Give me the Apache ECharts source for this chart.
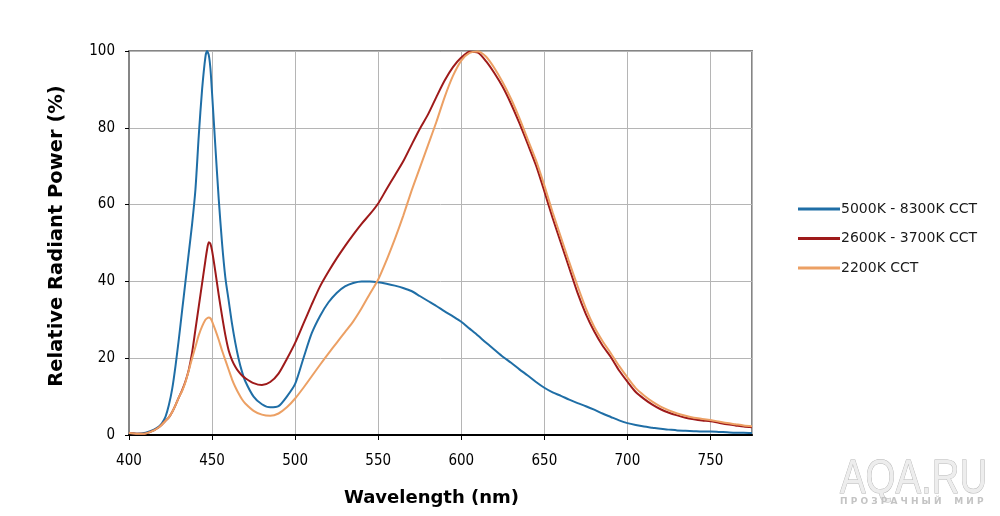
<!DOCTYPE html>
<html>
<head>
<meta charset="utf-8">
<script src="https://cdn.jsdelivr.net/npm/echarts@6/dist/echarts.min.js"></script>
<style>
html,body{margin:0;padding:0;background:#fff;}
#chart{width:1000px;height:516px;}
</style>
</head>
<body>
<div id="chart"></div>
<script>
// Wavelengths (nm) shared by all series
const wavelengths = [400,405,410,415,418,420,422,424,426,428,430,432,434,436,438,440,442,444,446,447,448,449,450,452,454,456,458,460,462,464,466,468,470,475,480,485,490,495,500,505,510,515,520,525,530,535,540,545,550,555,560,565,570,575,580,585,590,595,600,605,610,615,620,625,630,635,640,645,650,655,660,665,670,675,680,685,690,695,700,705,710,715,720,725,730,735,740,745,750,755,760,765,770,775];

const cct5000 = [0.5,0.3,0.6,1.4,2.2,3.2,4.8,7.8,12,18,25,32.5,40,47.5,55,64,78,90,98.5,100,99,95.5,89,75,61.5,50,41,35,29,24,19.8,16.5,14,10,8,7.2,7.5,10,13.3,20,26.5,31,34.5,37,38.7,39.6,40,40,39.8,39.4,38.9,38.3,37.5,36.2,34.9,33.6,32.2,30.9,29.5,27.7,25.9,24,22.2,20.4,18.8,17.1,15.5,13.8,12.3,11.1,10.2,9.2,8.3,7.5,6.6,5.6,4.7,3.8,3.1,2.6,2.2,1.9,1.6,1.4,1.2,1.1,1.0,0.9,0.9,0.8,0.7,0.6,0.6,0.5];

const cct2600 = [0.5,0.3,0.4,1.2,2,2.8,3.7,4.6,6,7.8,9.8,11.7,14,17,21.5,27.5,33.5,39.5,45.5,48.3,50.2,49.8,48,42.5,36.5,31,26,22,19.5,17.8,16.5,15.5,14.8,13.5,13,13.8,16,19.8,24,29,34,38.7,42.5,46,49.2,52.2,55,57.5,60.3,64,67.6,71.2,75.5,79.7,83.5,88,92.3,95.8,98.3,99.8,99.6,97.3,94.2,90.6,86.2,81.2,75.8,70.2,63.5,56.5,50,43.5,37,31.5,27,23.3,20.3,16.8,13.9,11.2,9.4,7.9,6.7,5.8,5.1,4.5,4.1,3.8,3.6,3.2,2.8,2.5,2.2,2.0];

const cct2200 = [0.5,0.3,0.4,1.2,2,2.8,3.7,4.6,6,7.8,9.8,11.5,13.8,16.8,20,23,26,28.3,30,30.4,30.6,30.4,29.6,27.3,24.8,22,19.5,17,14.5,12.5,10.8,9.3,8.2,6.3,5.3,5,5.6,7.2,9.5,12.3,15.3,18.3,21.2,24,26.8,29.6,33,36.8,40.5,45.5,51,57,63.5,69.5,75.5,81.5,88,93.5,97.5,99.5,99.9,98.5,95.5,91.8,87.5,82.5,77,71.5,65,58,51.5,45,38.8,33,28.2,24.5,21.3,18,15,12.2,10.3,8.7,7.4,6.4,5.6,5,4.5,4.2,3.9,3.5,3.1,2.8,2.5,2.3];

const seriesNames = ['5000K - 8300K CCT','2600K - 3700K CCT','2200K CCT'];
const seriesColors = ['#1f6ea6','#9e1a1a','#eca064'];
const seriesValues = [cct5000, cct2600, cct2200];

const xTicks = {min:400, max:775, interval:50};
const yTicks = {min:0, max:100, interval:20};

const font = '"DejaVu Sans", Verdana, sans-serif';
const tickFont = '"DejaVu Sans Condensed", "DejaVu Sans", sans-serif';

const chart = echarts.init(document.getElementById('chart'), null, {renderer:'canvas'});

const zs = [2, 3, 4];
const series = seriesNames.map((name, i) => ({
  name: name,
  type: 'line',
  smooth: 0.25,
  showSymbol: false,
  symbol: 'none',
  z: zs[i],
  data: wavelengths.map((w, k) => [w, seriesValues[i][k]]),
  lineStyle: {color: seriesColors[i], width: 2},
  itemStyle: {color: seriesColors[i]},
  emphasis: {disabled: true}
}));

chart.setOption({
  animation: false,
  backgroundColor: '#ffffff',
  grid: {
    left: 129, right: 248, top: 51, bottom: 81,
    show: true, borderColor: '#858585', borderWidth: 2, backgroundColor: 'transparent'
  },
  legend: {
    orient: 'vertical',
    left: 798, top: 202, padding: 0,
    itemWidth: 42, itemHeight: 3, itemGap: 15.5,
    icon: 'rect',
    textStyle: {fontFamily: font, fontSize: 14, color: '#1a1a1a', padding: [0,0,0,-4]},
    data: seriesNames
  },
  xAxis: {
    type: 'value',
    min: xTicks.min, max: xTicks.max, interval: xTicks.interval,
    name: 'Wavelength (nm)',
    nameLocation: 'middle', nameGap: 54,
    nameTextStyle: {fontFamily: font, fontSize: 18, fontWeight: 'bold', color: '#000', padding: [0,18,0,0]},
    axisLine: {show: true, onZero: false, lineStyle: {color: '#000', width: 2}},
    axisTick: {show: true, inside: false, length: 5, lineStyle: {color: '#000', width: 1}},
    axisLabel: {fontFamily: tickFont, fontSize: 15, color: '#000', margin: 19, showMaxLabel: false},
    splitLine: {show: true, lineStyle: {color: '#b5b5b5', width: 1}}
  },
  yAxis: {
    type: 'value',
    min: yTicks.min, max: yTicks.max, interval: yTicks.interval,
    name: 'Relative Radiant Power (%)',
    nameLocation: 'middle', nameGap: 62,
    nameTextStyle: {fontFamily: font, fontSize: 19.5, fontWeight: 'bold', color: '#000', padding: [0,0,0,14]},
    axisLine: {show: true, lineStyle: {color: '#858585', width: 2}},
    axisTick: {show: true, inside: false, length: 4, lineStyle: {color: '#000', width: 1}},
    axisLabel: {fontFamily: tickFont, fontSize: 15, color: '#000', margin: 14},
    splitLine: {show: true, lineStyle: {color: '#b5b5b5', width: 1}}
  },
  graphic: [
    {
      type: 'text', x: 840, y: 456, scaleX: 0.8, silent: true,
      style: {text: 'AQA.RU', font: '48px "Liberation Sans", Arial, sans-serif', fill: '#ededed', stroke: '#b5b5b5', lineWidth: 1}
    },
    {
      type: 'text', x: 840, y: 497, silent: true,
      style: {text: 'П Р О З Р А Ч Н Ы Й    М И Р', font: 'bold 9px "DejaVu Sans", sans-serif', fill: '#c4c4c4'}
    }
  ],
  series: series
});
</script>
</body>
</html>
